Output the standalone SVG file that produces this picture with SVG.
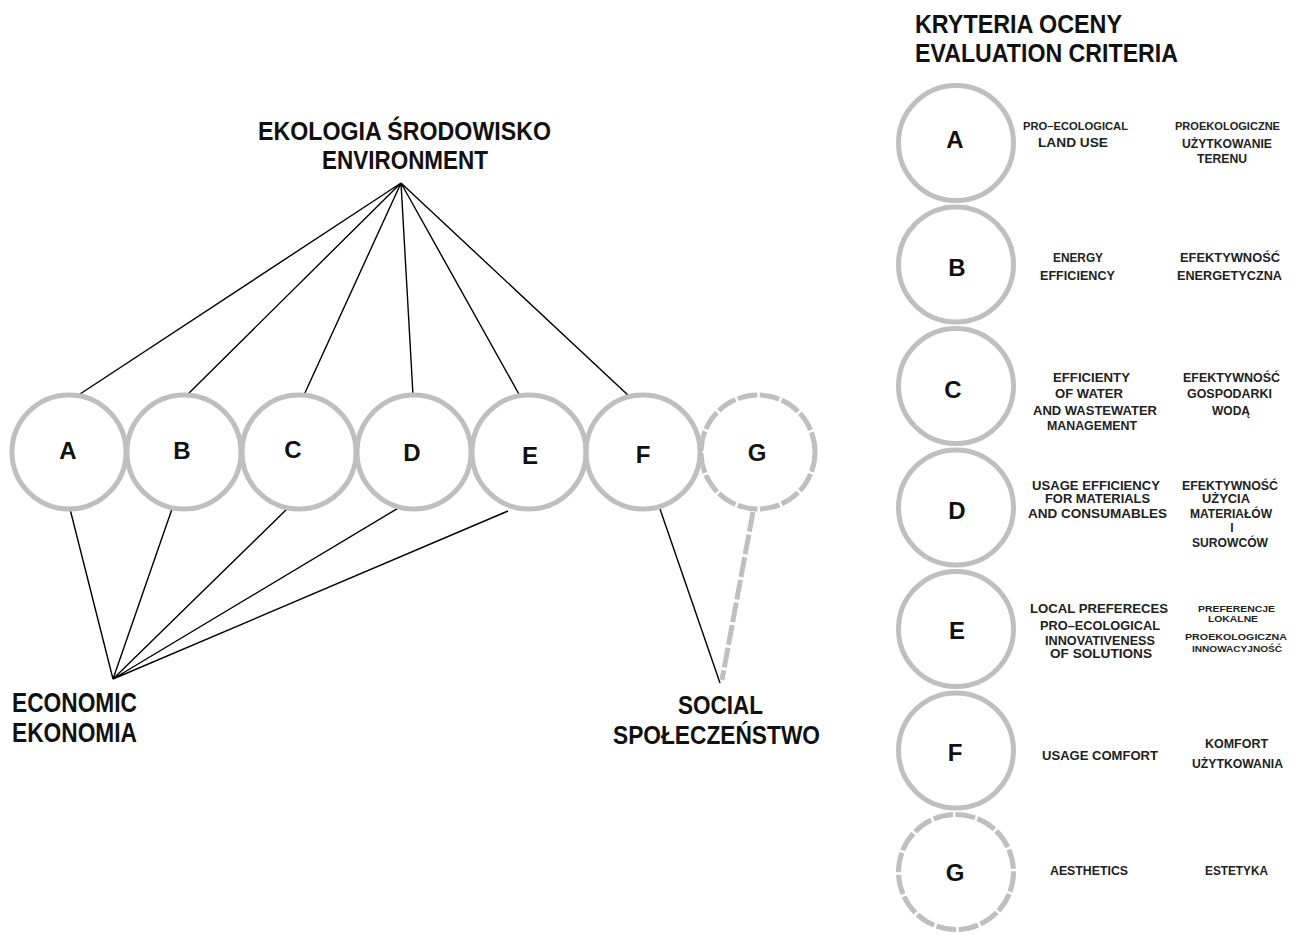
<svg xmlns="http://www.w3.org/2000/svg" width="1300" height="935" viewBox="0 0 1300 935">
<style>
.c{fill:none;stroke:#bfbfbf;stroke-width:5}
.d{fill:none;stroke:#bfbfbf;stroke-width:5;stroke-dasharray:20 2.5}
.ln{stroke:#000;stroke-width:1.4;fill:none}
.sl{stroke:#bfbfbf;stroke-width:5;stroke-dasharray:20 3;fill:none}
.L{font-family:"Liberation Sans",Arial,sans-serif;font-weight:bold;font-size:24px;text-anchor:middle;fill:#111}
.T{font-family:"Liberation Sans",Arial,sans-serif;font-weight:bold;font-size:25px;fill:#111}
.s{font-family:"Liberation Sans",Arial,sans-serif;font-weight:bold;font-size:12px;text-anchor:middle;fill:#222}
.x{font-size:10px}
.y{font-size:9px}
</style>
<rect width="1300" height="935" fill="#fff"/>
<g id="connectors">
<path class="ln" d="M401,183 L77,396 M401,183 L187,395 M401,183 L304,395 M401,183 L413,395 M401,183 L520,396 M401,183 L630,397"/>
<path class="ln" d="M113,679 L70,509 M113,679 L172,509 M113,679 L288,508 M113,679 L400,507 M113,679 L508,511"/>
<path class="ln" d="M660,509 L720,683"/>
<path class="sl" d="M753,512 L722,680"/>
</g>
<g id="title-environment">
<text class="T" x="258" y="140" textLength="293" lengthAdjust="spacingAndGlyphs">EKOLOGIA ŚRODOWISKO</text>
<text class="T" x="322" y="169" textLength="166" lengthAdjust="spacingAndGlyphs">ENVIRONMENT</text>
</g>
<g id="title-economic">
<text class="T" x="12" y="712" textLength="125" lengthAdjust="spacingAndGlyphs" style="font-size:27px">ECONOMIC</text>
<text class="T" x="12" y="742" textLength="125" lengthAdjust="spacingAndGlyphs" style="font-size:27px">EKONOMIA</text>
</g>
<g id="title-social">
<text class="T" x="678" y="714" textLength="85" lengthAdjust="spacingAndGlyphs">SOCIAL</text>
<text class="T" x="613" y="744" textLength="207" lengthAdjust="spacingAndGlyphs">SPOŁECZEŃSTWO</text>
</g>
<g id="row-A"><circle class="c" cx="69" cy="452" r="57"/><text class="L" x="68" y="459">A</text></g>
<g id="row-B"><circle class="c" cx="184" cy="452" r="57"/><text class="L" x="182" y="459">B</text></g>
<g id="row-C"><circle class="c" cx="299" cy="452" r="57"/><text class="L" x="293" y="458">C</text></g>
<g id="row-D"><circle class="c" cx="414" cy="452" r="57"/><text class="L" x="412" y="461">D</text></g>
<g id="row-E"><circle class="c" cx="529" cy="452" r="57"/><text class="L" x="530" y="464">E</text></g>
<g id="row-F"><circle class="c" cx="643" cy="452" r="57"/><text class="L" x="643" y="463">F</text></g>
<g id="row-G"><circle class="d" cx="758" cy="452" r="57"/><text class="L" x="757" y="461">G</text></g>
<g id="legend-title">
<text class="T" x="915" y="33" textLength="207" lengthAdjust="spacingAndGlyphs">KRYTERIA OCENY</text>
<text class="T" x="915" y="62" textLength="263" lengthAdjust="spacingAndGlyphs">EVALUATION CRITERIA</text>
</g>
<g id="legend-A"><circle class="c" cx="956" cy="143" r="57.5"/><text class="L" x="955" y="148">A</text>
<text class="s x" x="1075.5" y="130" textLength="105" lengthAdjust="spacingAndGlyphs">PRO–ECOLOGICAL</text>
<text class="s" x="1073" y="147" textLength="70" lengthAdjust="spacingAndGlyphs">LAND USE</text>
<text class="s x" x="1227.5" y="130" textLength="105" lengthAdjust="spacingAndGlyphs">PROEKOLOGICZNE</text>
<text class="s" x="1227" y="148" textLength="90" lengthAdjust="spacingAndGlyphs">UŻYTKOWANIE</text>
<text class="s" x="1222" y="163" textLength="50" lengthAdjust="spacingAndGlyphs">TERENU</text>
</g>
<g id="legend-B"><circle class="c" cx="956" cy="264.5" r="57.5"/><text class="L" x="957" y="276">B</text>
<text class="s" x="1078" y="262" textLength="50" lengthAdjust="spacingAndGlyphs">ENERGY</text>
<text class="s" x="1077.5" y="280" textLength="75" lengthAdjust="spacingAndGlyphs">EFFICIENCY</text>
<text class="s" x="1230" y="262" textLength="100" lengthAdjust="spacingAndGlyphs">EFEKTYWNOŚĆ</text>
<text class="s" x="1229.5" y="280" textLength="105" lengthAdjust="spacingAndGlyphs">ENERGETYCZNA</text>
</g>
<g id="legend-C"><circle class="c" cx="956" cy="386" r="57.5"/><text class="L" x="953" y="398">C</text>
<text class="s" x="1091.5" y="382" textLength="77" lengthAdjust="spacingAndGlyphs">EFFICIENTY</text>
<text class="s" x="1089" y="398" textLength="68" lengthAdjust="spacingAndGlyphs">OF WATER</text>
<text class="s" x="1095" y="415" textLength="124" lengthAdjust="spacingAndGlyphs">AND WASTEWATER</text>
<text class="s" x="1092" y="430" textLength="90" lengthAdjust="spacingAndGlyphs">MANAGEMENT</text>
<text class="s" x="1231.5" y="382" textLength="97" lengthAdjust="spacingAndGlyphs">EFEKTYWNOŚĆ</text>
<text class="s" x="1229.5" y="398" textLength="85" lengthAdjust="spacingAndGlyphs">GOSPODARKI</text>
<text class="s" x="1231" y="415" textLength="38" lengthAdjust="spacingAndGlyphs">WODĄ</text>
</g>
<g id="legend-D"><circle class="c" cx="956" cy="507.5" r="57.5"/><text class="L" x="957" y="519">D</text>
<text class="s" x="1096" y="490" textLength="128" lengthAdjust="spacingAndGlyphs">USAGE EFFICIENCY</text>
<text class="s" x="1097.5" y="503" textLength="105" lengthAdjust="spacingAndGlyphs">FOR MATERIALS</text>
<text class="s" x="1097.5" y="518" textLength="139" lengthAdjust="spacingAndGlyphs">AND CONSUMABLES</text>
<text class="s" x="1230" y="490" textLength="96" lengthAdjust="spacingAndGlyphs">EFEKTYWNOŚĆ</text>
<text class="s" x="1226" y="503" textLength="48" lengthAdjust="spacingAndGlyphs">UŻYCIA</text>
<text class="s" x="1231" y="518" textLength="82" lengthAdjust="spacingAndGlyphs">MATERIAŁÓW</text>
<text class="s" x="1232" y="532">I</text>
<text class="s" x="1230" y="547" textLength="76" lengthAdjust="spacingAndGlyphs">SUROWCÓW</text>
</g>
<g id="legend-E"><circle class="c" cx="956" cy="629" r="57.5"/><text class="L" x="957" y="639">E</text>
<text class="s" x="1099" y="613" textLength="138" lengthAdjust="spacingAndGlyphs">LOCAL PREFERECES</text>
<text class="s" x="1100" y="630" textLength="120" lengthAdjust="spacingAndGlyphs">PRO–ECOLOGICAL</text>
<text class="s" x="1100" y="645" textLength="110" lengthAdjust="spacingAndGlyphs">INNOVATIVENESS</text>
<text class="s" x="1101" y="658" textLength="102" lengthAdjust="spacingAndGlyphs">OF SOLUTIONS</text>
<text class="s y" x="1236.5" y="612" textLength="77" lengthAdjust="spacingAndGlyphs">PREFERENCJE</text>
<text class="s y" x="1233" y="622" textLength="50" lengthAdjust="spacingAndGlyphs">LOKALNE</text>
<text class="s y" x="1236" y="640" textLength="102" lengthAdjust="spacingAndGlyphs">PROEKOLOGICZNA</text>
<text class="s y" x="1237" y="652" textLength="90" lengthAdjust="spacingAndGlyphs">INNOWACYJNOŚĆ</text>
</g>
<g id="legend-F"><circle class="c" cx="956" cy="750.5" r="57.5"/><text class="L" x="955" y="761">F</text>
<text class="s" x="1100" y="760" textLength="116" lengthAdjust="spacingAndGlyphs">USAGE COMFORT</text>
<text class="s" x="1236.5" y="748" textLength="63" lengthAdjust="spacingAndGlyphs">KOMFORT</text>
<text class="s" x="1237.5" y="768" textLength="91" lengthAdjust="spacingAndGlyphs">UŻYTKOWANIA</text>
</g>
<g id="legend-G"><circle class="d" cx="956" cy="872" r="57.5"/><text class="L" x="955" y="881">G</text>
<text class="s" x="1089" y="875" textLength="78" lengthAdjust="spacingAndGlyphs">AESTHETICS</text>
<text class="s" x="1236.5" y="875" textLength="63" lengthAdjust="spacingAndGlyphs">ESTETYKA</text>
</g>
</svg>
